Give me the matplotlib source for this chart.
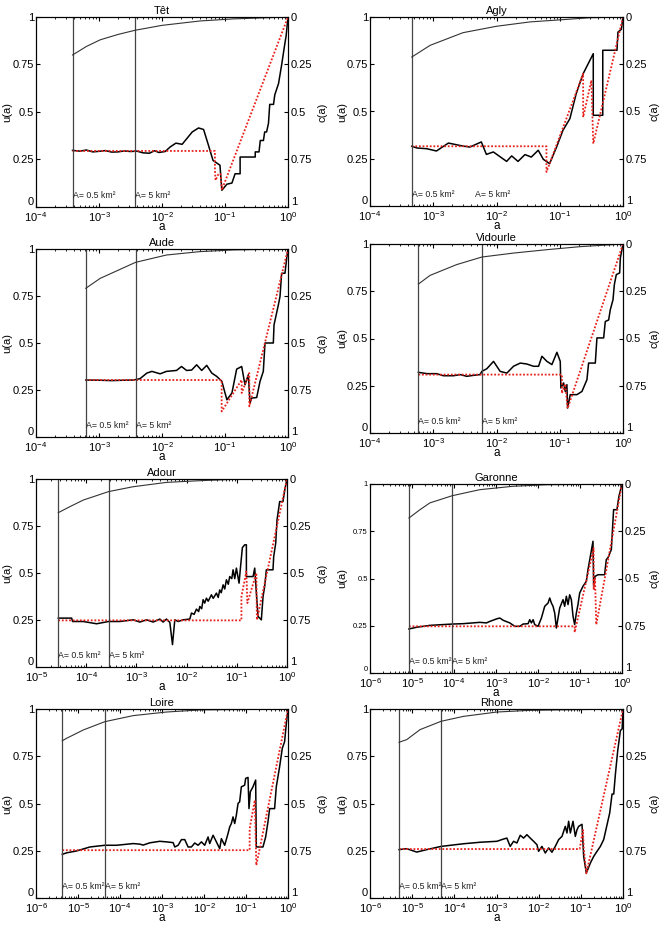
import numpy as np
import matplotlib
matplotlib.use("Agg")
import matplotlib.pyplot as plt
from matplotlib.ticker import LogLocator, NullFormatter

plt.rcParams['font.family'] = ['Liberation Sans', 'DejaVu Sans']
plt.rcParams['mathtext.fontset'] = 'custom'
plt.rcParams['mathtext.rm'] = 'Liberation Sans'
plt.rcParams['mathtext.it'] = 'Liberation Sans:italic'
plt.rcParams['mathtext.bf'] = 'Liberation Sans:bold'

# all x values are log10(a), y values read off the picture
# --- Têt
tet_u = [(-3.42, 0.298), (-3.30, 0.294), (-3.20, 0.300), (-3.10, 0.290), (-3.00, 0.293), (-2.90, 0.297),
         (-2.80, 0.289), (-2.70, 0.290), (-2.60, 0.295), (-2.50, 0.292), (-2.40, 0.294), (-2.30, 0.285),
         (-2.20, 0.283), (-2.12, 0.296), (-2.05, 0.287), (-1.95, 0.292), (-1.87, 0.316), (-1.78, 0.336),
         (-1.68, 0.330), (-1.52, 0.395), (-1.42, 0.416), (-1.34, 0.408), (-1.27, 0.333), (-1.19, 0.245),
         (-1.08, 0.220), (-1.05, 0.088), (-0.97, 0.120), (-0.89, 0.126), (-0.84, 0.175), (-0.76, 0.175),
         (-0.76, 0.263), (-0.52, 0.263), (-0.52, 0.290), (-0.46, 0.290), (-0.44, 0.350), (-0.39, 0.350),
         (-0.37, 0.395), (-0.34, 0.395), (-0.31, 0.440), (-0.29, 0.540), (-0.23, 0.540), (-0.21, 0.590),
         (-0.15, 0.650), (-0.10, 0.750), (-0.05, 0.860), (-0.03, 0.900), (0.0, 1.0)]
tet_red = [(-3.42, 0.295), (-1.16, 0.295), (-1.16, 0.195), (-1.15, 0.14), (-1.11, 0.17), (-1.07, 0.175),
           (-1.05, 0.09), (0.0, 1.0)]
tet_c = [(-3.42, 0.20), (-3.2, 0.155), (-2.98, 0.12), (-2.7, 0.092), (-2.43, 0.07), (-2.0, 0.044),
         (-1.4, 0.021), (-0.87, 0.01), (-0.34, 0.004), (0.0, 0.0)]
tet_lines = [-3.42, -2.43]
tet_labels = [-3.42, -2.43]

# --- Agly
agly_u = [(-3.34, 0.316), (-3.26, 0.307), (-3.10, 0.303), (-2.95, 0.291), (-2.76, 0.333), (-2.53, 0.317),
          (-2.42, 0.312), (-2.24, 0.339), (-2.16, 0.273), (-2.05, 0.286), (-1.84, 0.236), (-1.76, 0.265),
          (-1.66, 0.236), (-1.55, 0.272), (-1.45, 0.259), (-1.34, 0.295), (-1.26, 0.247), (-1.16, 0.224),
          (-1.05, 0.312), (-0.95, 0.40), (-0.84, 0.462), (-0.74, 0.594), (-0.63, 0.70), (-0.47, 0.806),
          (-0.47, 0.48), (-0.32, 0.48), (-0.32, 0.824), (-0.095, 0.824), (-0.08, 0.92), (-0.026, 0.935),
          (0.0, 1.0)]
agly_red = [(-3.34, 0.316), (-1.21, 0.316), (-1.21, 0.18), (-0.63, 0.70), (-0.63, 0.47), (-0.50, 0.665),
            (-0.47, 0.33), (0.0, 1.0)]
agly_c = [(-3.34, 0.212), (-3.05, 0.150), (-2.53, 0.083), (-2.0, 0.049), (-1.47, 0.026), (-0.95, 0.014),
          (-0.53, 0.004), (0.0, 0.0)]
agly_lines = [-3.34]
agly_labels = [-3.34, -2.34]

# --- Aude
aude_u = [(-3.21, 0.303), (-3.0, 0.302), (-2.8, 0.300), (-2.6, 0.302), (-2.455, 0.303), (-2.35, 0.310),
          (-2.24, 0.340), (-2.16, 0.349), (-2.03, 0.336), (-1.93, 0.349), (-1.77, 0.354), (-1.69, 0.375),
          (-1.61, 0.354), (-1.53, 0.356), (-1.45, 0.384), (-1.37, 0.354), (-1.29, 0.381), (-1.21, 0.340),
          (-1.13, 0.322), (-1.05, 0.296), (-0.97, 0.198), (-0.89, 0.234), (-0.815, 0.361), (-0.735, 0.375),
          (-0.683, 0.278), (-0.63, 0.331), (-0.603, 0.180), (-0.577, 0.207), (-0.497, 0.210), (-0.444, 0.296),
          (-0.392, 0.349), (-0.365, 0.50), (-0.233, 0.50), (-0.222, 0.596), (-0.153, 0.703), (-0.127, 0.747),
          (-0.101, 0.871), (-0.048, 0.871), (-0.021, 0.95), (0.0, 1.0)]
aude_red = [(-3.21, 0.303), (-1.053, 0.303), (-1.053, 0.136), (-0.735, 0.304), (-0.735, 0.234),
            (-0.614, 0.34), (-0.614, 0.163), (0.0, 1.0)]
aude_c = [(-3.21, 0.209), (-2.98, 0.156), (-2.42, 0.071), (-1.93, 0.032), (-1.40, 0.014), (-0.87, 0.005),
          (0.0, 0.0)]
aude_lines = [-3.206, -2.418]
aude_labels = [-3.206, -2.418]

# --- Vidourle
vid_u = [(-3.235, 0.321), (-3.10, 0.314), (-2.945, 0.314), (-2.84, 0.303), (-2.68, 0.303), (-2.575, 0.309),
         (-2.47, 0.300), (-2.364, 0.305), (-2.26, 0.309), (-2.232, 0.326), (-2.153, 0.340), (-2.047, 0.379),
         (-1.942, 0.326), (-1.836, 0.317), (-1.731, 0.353), (-1.625, 0.370), (-1.52, 0.365), (-1.414, 0.353),
         (-1.335, 0.353), (-1.282, 0.406), (-1.203, 0.379), (-1.124, 0.362), (-1.045, 0.427), (-0.992, 0.379),
         (-0.982, 0.238), (-0.939, 0.265), (-0.913, 0.220), (-0.887, 0.256), (-0.876, 0.132), (-0.834, 0.203),
         (-0.728, 0.203), (-0.649, 0.220), (-0.570, 0.282), (-0.544, 0.370), (-0.438, 0.370), (-0.412, 0.503),
         (-0.306, 0.503), (-0.280, 0.590), (-0.227, 0.598), (-0.201, 0.652), (-0.158, 0.705), (-0.137, 0.785),
         (-0.106, 0.838), (-0.053, 0.847), (-0.042, 0.926), (0.0, 1.0)]
vid_red = [(-3.235, 0.309), (-0.966, 0.309), (-0.966, 0.21), (-0.913, 0.26), (-0.876, 0.13), (0.0, 1.0)]
vid_c = [(-3.235, 0.212), (-3.05, 0.166), (-2.63, 0.109), (-2.232, 0.069), (-1.731, 0.048), (-1.203, 0.030),
         (-0.675, 0.014), (0.0, 0.0)]
vid_lines = [-3.235, -2.232]
vid_labels = [-3.235, -2.232]

# --- Adour
adour_u = [(-4.556, 0.260), (-4.29, 0.260), (-4.271, 0.242), (-4.058, 0.242), (-3.793, 0.230), (-3.554, 0.242),
           (-3.329, 0.242), (-3.064, 0.251), (-2.931, 0.239), (-2.798, 0.251), (-2.666, 0.239), (-2.533, 0.255),
           (-2.467, 0.239), (-2.401, 0.255), (-2.334, 0.237), (-2.281, 0.119), (-2.235, 0.251), (-2.168, 0.242),
           (-2.069, 0.251), (-1.936, 0.255), (-1.903, 0.287), (-1.85, 0.280), (-1.804, 0.308), (-1.76, 0.295),
           (-1.737, 0.322), (-1.70, 0.310), (-1.671, 0.358), (-1.64, 0.340), (-1.605, 0.366), (-1.57, 0.350),
           (-1.505, 0.384), (-1.47, 0.365), (-1.406, 0.393), (-1.37, 0.370), (-1.340, 0.410), (-1.31, 0.395),
           (-1.273, 0.437), (-1.24, 0.415), (-1.207, 0.464), (-1.17, 0.440), (-1.141, 0.481), (-1.10, 0.470),
           (-1.074, 0.517), (-1.041, 0.470), (-1.008, 0.526), (-0.955, 0.446), (-0.928, 0.526), (-0.889, 0.635),
           (-0.842, 0.650), (-0.809, 0.650), (-0.809, 0.481), (-0.676, 0.481), (-0.643, 0.526), (-0.610, 0.393),
           (-0.577, 0.269), (-0.511, 0.251), (-0.477, 0.375), (-0.444, 0.430), (-0.411, 0.517), (-0.279, 0.517),
           (-0.265, 0.588), (-0.225, 0.658), (-0.199, 0.782), (-0.146, 0.880), (-0.080, 0.880), (-0.046, 0.940),
           (0.0, 1.0)]
adour_red = [(-4.556, 0.248), (-0.908, 0.248), (-0.908, 0.375), (-0.81, 0.508), (-0.79, 0.34), (-0.61, 0.50),
             (-0.60, 0.25), (0.0, 1.0)]
adour_c = [(-4.556, 0.179), (-4.324, 0.147), (-4.058, 0.112), (-3.554, 0.067), (-3.064, 0.041), (-2.401, 0.018),
           (-1.737, 0.009), (-1.074, 0.002), (0.0, 0.0)]
adour_lines = [-4.556, -3.554]
adour_labels = [-4.556, -3.554]

# --- Garonne
gar_u = [(-5.073, 0.233), (-4.891, 0.242), (-4.574, 0.252), (-4.043, 0.259), (-3.781, 0.261), (-3.385, 0.268),
         (-3.227, 0.265), (-3.147, 0.273), (-2.989, 0.286), (-2.91, 0.291), (-2.83, 0.279), (-2.672, 0.265),
         (-2.553, 0.247), (-2.434, 0.247), (-2.355, 0.259), (-2.236, 0.261), (-2.197, 0.282), (-2.157, 0.265),
         (-2.117, 0.282), (-2.078, 0.256), (-1.998, 0.247), (-1.919, 0.291), (-1.840, 0.353), (-1.761, 0.370),
         (-1.721, 0.397), (-1.681, 0.370), (-1.642, 0.353), (-1.602, 0.317), (-1.563, 0.238), (-1.483, 0.344),
         (-1.404, 0.388), (-1.365, 0.353), (-1.325, 0.406), (-1.285, 0.362), (-1.246, 0.414), (-1.206, 0.388),
         (-1.166, 0.300), (-1.127, 0.256), (-1.087, 0.317), (-1.048, 0.362), (-1.008, 0.423), (-0.929, 0.459),
         (-0.849, 0.485), (-0.810, 0.547), (-0.754, 0.617), (-0.691, 0.697), (-0.675, 0.462), (-0.643, 0.511),
         (-0.572, 0.520), (-0.414, 0.520), (-0.374, 0.600), (-0.334, 0.610), (-0.254, 0.653), (-0.200, 0.864),
         (-0.121, 0.864), (-0.073, 0.935), (0.0, 1.0)]
gar_red = [(-5.073, 0.247), (-1.127, 0.247), (-1.127, 0.215), (-0.675, 0.66), (-0.675, 0.44), (-0.643, 0.50),
           (-0.612, 0.256), (0.0, 1.0)]
gar_c = [(-5.073, 0.18), (-4.811, 0.136), (-4.574, 0.10), (-4.043, 0.062), (-3.385, 0.030), (-2.593, 0.012),
         (-1.80, 0.004), (0.0, 0.0)]
gar_lines = [-5.073, -4.043]
gar_labels = [-5.073, -4.043]

# --- Loire
loire_u = [(-5.374, 0.231), (-5.271, 0.239), (-5.033, 0.249), (-4.716, 0.270), (-4.360, 0.279), (-4.082, 0.279),
           (-3.686, 0.288), (-3.528, 0.285), (-3.448, 0.280), (-3.290, 0.292), (-3.052, 0.300), (-2.894, 0.297),
           (-2.735, 0.293), (-2.696, 0.270), (-2.616, 0.279), (-2.537, 0.309), (-2.458, 0.309), (-2.379, 0.270),
           (-2.300, 0.270), (-2.220, 0.291), (-2.141, 0.279), (-2.062, 0.297), (-1.983, 0.279), (-1.903, 0.323),
           (-1.864, 0.288), (-1.784, 0.332), (-1.705, 0.297), (-1.626, 0.261), (-1.586, 0.314), (-1.507, 0.279),
           (-1.428, 0.341), (-1.388, 0.376), (-1.349, 0.394), (-1.309, 0.429), (-1.269, 0.394), (-1.230, 0.438),
           (-1.190, 0.500), (-1.151, 0.509), (-1.111, 0.588), (-1.032, 0.597), (-1.008, 0.633), (-0.952, 0.638),
           (-0.929, 0.473), (-0.897, 0.562), (-0.834, 0.588), (-0.770, 0.624), (-0.754, 0.270), (-0.596, 0.270),
           (-0.532, 0.323), (-0.477, 0.403), (-0.437, 0.473), (-0.319, 0.473), (-0.279, 0.588), (-0.200, 0.694),
           (-0.136, 0.792), (-0.081, 0.827), (-0.041, 0.920), (0.0, 1.0)]
loire_red = [(-5.374, 0.253), (-0.913, 0.253), (-0.913, 0.367), (-0.79, 0.518), (-0.754, 0.173), (0.0, 1.0)]
loire_c = [(-5.374, 0.168), (-5.271, 0.155), (-4.875, 0.111), (-4.360, 0.067), (-3.686, 0.035), (-2.894, 0.016),
           (-2.101, 0.005), (0.0, 0.0)]
loire_lines = [-5.374, -4.360]
loire_labels = [-5.374, -4.360]

# --- Rhone
rhone_u = [(-5.311, 0.256), (-5.129, 0.261), (-4.892, 0.243), (-4.654, 0.256), (-4.314, 0.273), (-3.783, 0.287),
           (-3.387, 0.295), (-2.991, 0.300), (-2.833, 0.312), (-2.754, 0.317), (-2.675, 0.273), (-2.595, 0.300),
           (-2.516, 0.291), (-2.437, 0.332), (-2.358, 0.317), (-2.279, 0.335), (-2.200, 0.317), (-2.120, 0.300),
           (-2.041, 0.282), (-2.002, 0.247), (-1.922, 0.273), (-1.843, 0.238), (-1.764, 0.265), (-1.685, 0.242),
           (-1.606, 0.273), (-1.526, 0.309), (-1.447, 0.326), (-1.368, 0.379), (-1.329, 0.344), (-1.289, 0.406),
           (-1.249, 0.344), (-1.186, 0.406), (-1.131, 0.326), (-1.091, 0.361), (-1.052, 0.379), (-0.972, 0.390),
           (-0.933, 0.220), (-0.869, 0.132), (-0.774, 0.185), (-0.695, 0.220), (-0.616, 0.247), (-0.537, 0.273),
           (-0.458, 0.309), (-0.378, 0.388), (-0.315, 0.450), (-0.260, 0.550), (-0.220, 0.550), (-0.180, 0.656),
           (-0.125, 0.780), (-0.062, 0.886), (-0.02, 0.895), (0.0, 1.0)]
rhone_red = [(-5.311, 0.259), (-1.028, 0.259), (-0.95, 0.36), (-0.93, 0.26), (-0.869, 0.13), (0.0, 1.0)]
rhone_c = [(-5.311, 0.176), (-5.129, 0.162), (-4.812, 0.109), (-4.314, 0.065), (-3.783, 0.039), (-2.991, 0.016),
           (-2.200, 0.007), (0.0, 0.0)]
rhone_lines = [-5.311, -4.314]
rhone_labels = [-5.311, -4.314]

tick_vals = [0, 0.25, 0.5, 0.75, 1]
tick_text = ['0', '0.25', '0.5', '0.75', '1']
area_text = ['A= 0.5 km²', 'A= 5 km²']

W, H = 663, 925
# name, lowest decade, data, axes box in pixels (left, top, right, bottom)
panels = [
    ("Têt", -4, tet_u, tet_red, tet_c, tet_lines, tet_labels, (36, 17, 288, 207)),
    ("Agly", -4, agly_u, agly_red, agly_c, agly_lines, agly_labels, (370, 17, 623, 206)),
    ("Aude", -4, aude_u, aude_red, aude_c, aude_lines, aude_labels, (36, 249, 288, 437)),
    ("Vidourle", -4, vid_u, vid_red, vid_c, vid_lines, vid_labels, (370, 244, 623, 433)),
    ("Adour", -5, adour_u, adour_red, adour_c, adour_lines, adour_labels, (36, 479, 287, 667)),
    ("Garonne", -6, gar_u, gar_red, gar_c, gar_lines, gar_labels, (370, 484, 622, 673)),
    ("Loire", -6, loire_u, loire_red, loire_c, loire_lines, loire_labels, (36, 709, 288, 898)),
    ("Rhone", -6, rhone_u, rhone_red, rhone_c, rhone_lines, rhone_labels, (370, 709, 623, 898)),
]

fig = plt.figure(figsize=(W / 100, H / 100), dpi=100)

for name, lo, u, red, c, vlines, labels, box in panels:
    x0, y0, x1, y1 = box
    w = x1 - x0
    ax = fig.add_axes([x0 / W, 1 - y1 / H, w / W, (y1 - y0) / H])
    ax2 = ax.twinx()

    cx, cy = np.array(c).T
    ax2.plot(10 ** cx, cy, color='#333333', lw=0.8)
    ux, uy = np.array(u).T
    ax.plot(10 ** ux, uy, color='black', lw=1.1)
    rx, ry = np.array(red).T
    ax.plot(10 ** rx, ry, color='#e8201c', lw=1.3, linestyle=(0, (1, 1)))

    for v in vlines:
        ax.axvline(10 ** v, color='#444444', lw=0.9)
    for v, t in zip(labels, area_text):
        ax.text(10 ** v, 0.035, t, fontsize=6.3, ha='left', va='bottom', color='#222222')

    ax.set_xscale('log')
    ax.set_xlim(10 ** lo, 1)
    ax.set_ylim(0, 1)
    ax.xaxis.set_major_locator(LogLocator(base=10, numticks=12))
    ax.xaxis.set_minor_locator(LogLocator(base=10, subs=np.arange(2, 10), numticks=12))
    ax.xaxis.set_minor_formatter(NullFormatter())
    ax.set_yticks(tick_vals)
    ax.set_yticklabels(tick_text)
    ax2.set_ylim(1, 0)
    ax2.set_yticks(tick_vals)
    ax2.set_yticklabels(tick_text)
    # bottom labels sit just above the lower edge, as in the original
    ax.get_yticklabels()[0].set_va('bottom')
    ax2.get_yticklabels()[-1].set_va('bottom')

    ysize = 5.5 if name == "Garonne" else 8
    ax.tick_params(axis='x', which='major', direction='in', top=True, length=3, labelsize=8, pad=2)
    ax.tick_params(axis='x', which='minor', direction='in', top=True, length=1.5)
    ax.tick_params(axis='y', direction='in', length=3, labelsize=ysize, pad=1.5)
    ax2.tick_params(axis='y', direction='in', length=3, labelsize=8, pad=2)

    ax.set_title(name, fontsize=8, pad=2)
    ax.set_xlabel('a', fontsize=8.5, labelpad=-1.5)
    ax.set_ylabel('u(a)', fontsize=8)
    ax2.set_ylabel('c(a)', fontsize=8)
    # u(a): right edge of the rotated text, c(a): left edge (pixels)
    u_edge = 12 if x0 < 100 else 347
    c_edge = 318 if x0 < 100 else 650
    ax.yaxis.set_label_coords((u_edge - x0) / w, 0.5)
    ax2.yaxis.set_label_coords((c_edge - x0) / w, 0.5)

fig.savefig('out.png', dpi=100)
